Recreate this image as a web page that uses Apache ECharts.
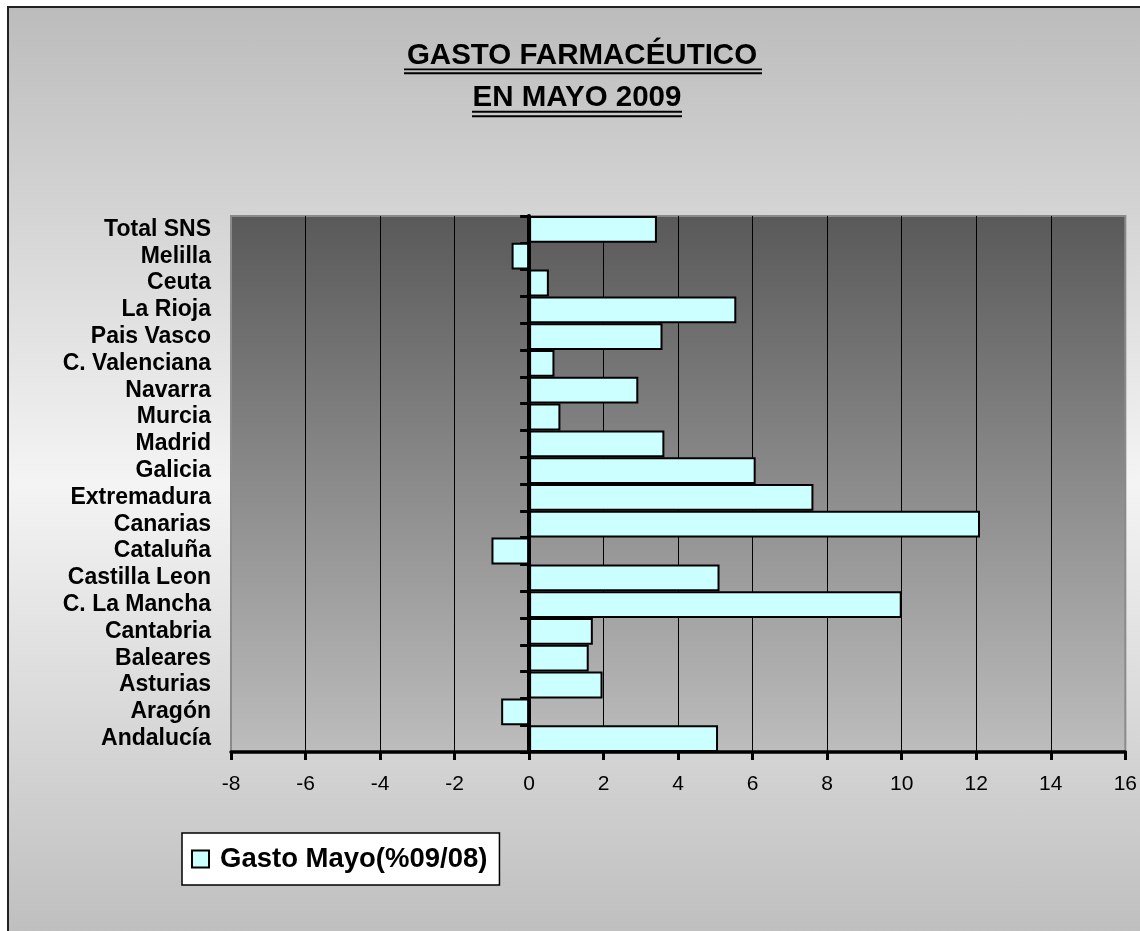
<!DOCTYPE html>
<html>
<head>
<meta charset="utf-8">
<script src="https://cdn.jsdelivr.net/npm/echarts@6/dist/echarts.min.js"></script>
<style>
  html, body { margin: 0; padding: 0; background: #ffffff; }
  #frame {
    position: absolute; left: 7px; top: 6px; width: 1160px; height: 950px;
    border-left: 2px solid #222; border-top: 2px solid #222;
    background: linear-gradient(to bottom, #bcbcbc 0%, #f4f4f4 50%, #bcbcbc 100%);
  }
  #chart { position: absolute; left: 0; top: 0; width: 1140px; height: 931px; }
</style>
</head>
<body>
<div id="frame"></div>
<div id="chart"></div>
<script>
// Data (bottom to top as drawn on the category axis)
const categories = ['Andalucía','Aragón','Asturias','Baleares','Cantabria','C. La Mancha','Castilla Leon','Cataluña','Canarias','Extremadura','Galicia','Madrid','Murcia','Navarra','C. Valenciana','Pais Vasco','La Rioja','Ceuta','Melilla','Total SNS'];
const gastoMayo = [5.07, -0.75, 1.97, 1.60, 1.71, 10.0, 5.11, -1.01, 12.1, 7.63, 6.08, 3.63, 0.84, 2.93, 0.68, 3.58, 5.56, 0.53, -0.47, 3.43];
const seriesName = 'Gasto Mayo(%09/08)';
const titleLines = ['GASTO FARMACÉUTICO', 'EN MAYO 2009'];
const xMin = -8, xMax = 16, xInterval = 2;

const FONT = '"Liberation Sans", Arial, sans-serif';
const chart = echarts.init(document.getElementById('chart'), null, { renderer: 'canvas' });

const option = {
  backgroundColor: 'transparent',
  animation: false,
  graphic: [
    { type: 'text', style: { text: titleLines[0], x: 582, y: 55.5, align: 'center', verticalAlign: 'middle', font: 'bold 29.5px ' + FONT, fill: '#000' } },
    { type: 'text', style: { text: titleLines[1], x: 577, y: 98, align: 'center', verticalAlign: 'middle', font: 'bold 29.5px ' + FONT, fill: '#000' } },
    { type: 'line', shape: { x1: 404, y1: 69.4, x2: 762, y2: 69.4 }, style: { stroke: '#000', lineWidth: 1.6 } },
    { type: 'line', shape: { x1: 404, y1: 73.3, x2: 762, y2: 73.3 }, style: { stroke: '#000', lineWidth: 2 } },
    { type: 'line', shape: { x1: 472, y1: 111.7, x2: 682, y2: 111.7 }, style: { stroke: '#000', lineWidth: 2 } },
    { type: 'line', shape: { x1: 472, y1: 116.3, x2: 682, y2: 116.3 }, style: { stroke: '#000', lineWidth: 2 } }
  ],
  grid: {
    left: 231, top: 216, right: 13, bottom: 179,
    show: true,
    borderColor: '#8a8a8a', borderWidth: 2,
    backgroundColor: new echarts.graphic.LinearGradient(0, 0, 0, 1, [
      { offset: 0, color: '#595959' },
      { offset: 1, color: '#bdbdbd' }
    ])
  },
  legend: {
    left: 182, top: 833,
    backgroundColor: '#ffffff', borderColor: '#000', borderWidth: 1.5,
    padding: [12, 12, 12, 9],
    itemWidth: 17, itemHeight: 17,
    icon: 'rect',
    textStyle: { fontFamily: FONT, fontWeight: 'bold', fontSize: 27.5, color: '#000', padding: [0, 0, 0, 6] },
    data: [seriesName]
  },
  xAxis: {
    type: 'value', min: xMin, max: xMax, interval: xInterval,
    axisLine: { show: true, onZero: false, lineStyle: { color: '#000', width: 3.5 } },
    axisTick: { show: true, length: 8, lineStyle: { color: '#000', width: 3 } },
    axisLabel: { fontFamily: FONT, fontSize: 21, color: '#000', margin: 22 },
    splitLine: { show: true, showMinLine: false, showMaxLine: false, lineStyle: { color: '#000', width: 1 } }
  },
  yAxis: [
    {
      type: 'category', data: categories, position: 'left',
      axisLine: { show: false, onZero: false },
      axisTick: { show: false },
      axisLabel: { fontFamily: FONT, fontWeight: 'bold', fontSize: 23, color: '#000', margin: 20, interval: 0 },
      splitLine: { show: false }
    },
    {
      type: 'category', data: categories, position: 'left',
      axisLine: { show: true, onZero: true, lineStyle: { color: '#000', width: 4 } },
      axisTick: { show: true, interval: 0, length: 9, lineStyle: { color: '#000', width: 3 } },
      axisLabel: { show: false },
      splitLine: { show: false }
    }
  ],
  series: [{
    name: seriesName,
    type: 'bar',
    yAxisIndex: 0,
    data: gastoMayo,
    barCategoryGap: '0%',
    itemStyle: { color: '#ccffff', borderColor: '#000', borderWidth: 2 }
  }]
};
chart.setOption(option);
</script>
</body>
</html>
